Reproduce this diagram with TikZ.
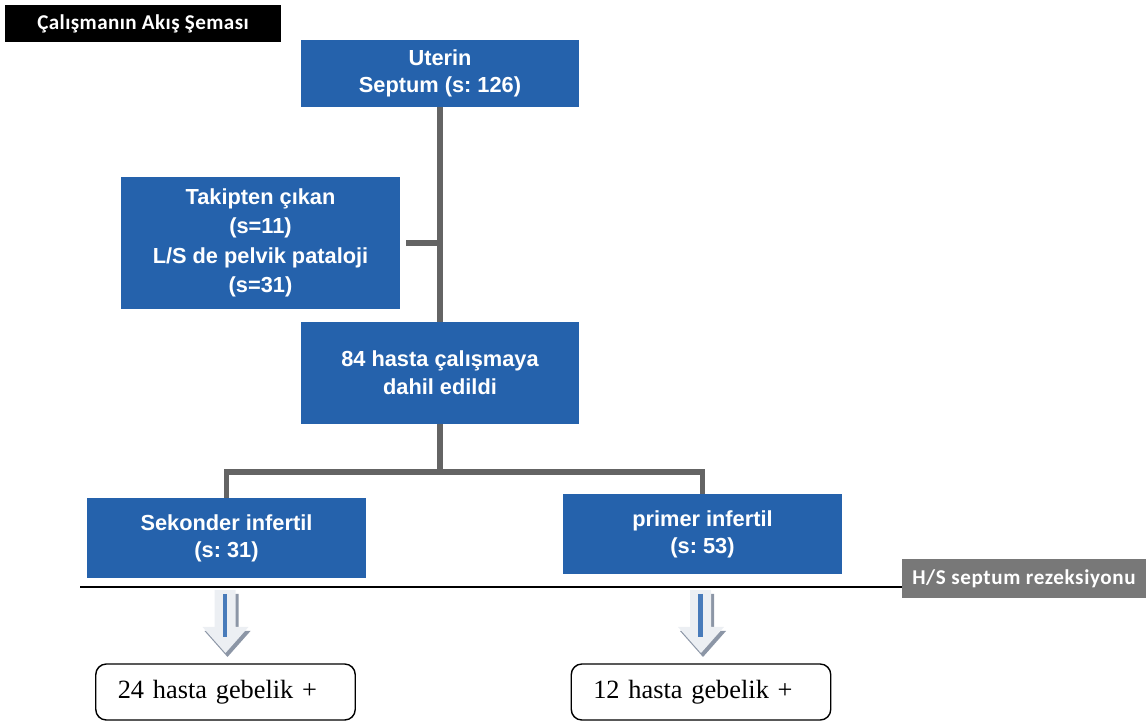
\documentclass[tikz,border=0pt]{standalone}
\usepackage{fontspec}
\setmainfont{Liberation Sans}
\newfontfamily\calibri{Carlito}
\newfontfamily\timesyazi{Liberation Serif}
\frenchspacing
\definecolor{kutumavi}{RGB}{37,98,172}
\definecolor{baglanti}{RGB}{100,100,100}
\definecolor{gribant}{RGB}{120,120,120}
\definecolor{okgolge}{RGB}{140,150,166}
\definecolor{okici}{RGB}{72,123,186}
\definecolor{okdolgu}{RGB}{236,239,243}

\begin{document}
\begin{tikzpicture}[x=0.02cm, y=-0.02cm,
    kutu/.style={fill=kutumavi, text=white, align=center, minimum width=5.58cm,
        font=\bfseries\fontsize{12.4}{15.5}\selectfont},
    sonuc/.style={draw, rounded corners=6pt, line width=0.8pt, fill=white,
        text width=4.31cm, inner xsep=0.44cm, minimum height=1.12cm, align=left,
        font=\timesyazi\fontsize{15}{18}\selectfont},
    conn/.style={draw=baglanti, line width=3.3pt},
    okasagi/.pic={
        \fill[okgolge] (-9,4) -- (13,4) -- (13,41) -- (25,41) -- (2,67) -- (-21,41) -- (-9,41) -- cycle;
        \fill[okdolgu] (-11,0) -- (10,0) -- (10,37) -- (23,37) -- (0,63) -- (-23,37) -- (-11,37) -- cycle;
        \draw[okici, line width=2.8pt] (-0.5,4) -- (-0.5,47);
    }]
    \useasboundingbox (0,0) rectangle (1146,723);

    \node[fill=black, text=white, minimum width=5.52cm, minimum height=0.74cm,
        font=\calibri\bfseries\fontsize{12}{14}\selectfont\addfontfeature{LetterSpace=2}]
        (baslik) at (143,23.5) {Çalışmanın Akış Şeması};

    \node[kutu, minimum height=1.34cm] (uterin) at (440,73.5) {Uterin\\Septum (s: 126)};
    \node[kutu, minimum height=2.64cm, font=\bfseries\fontsize{12.4}{16.8}\selectfont]
        (takip) at (260.5,243) {Takipten çıkan\\(s=11)\\L/S de pelvik pataloji\\(s=31)};
    \node[kutu, minimum height=2.04cm, font=\bfseries\fontsize{12.4}{16}\selectfont]
        (dahil) at (440,373) {84 hasta çalışmaya\\dahil edildi};
    \node[kutu, minimum height=1.6cm] (sekonder) at (226.5,538) {Sekonder infertil\\(s: 31)};
    \node[kutu, minimum height=1.6cm] (primer) at (702.5,534) {primer infertil\\(s: 53)};

    \draw[conn] (uterin.south) -- (dahil.north);
    \draw[conn, shorten <=0.12cm] (takip.east) -- (takip.east -| uterin.south);
    \coordinate (ayrim) at (440,472);
    \draw[conn] (dahil.south) -- (ayrim);
    \draw[conn] (sekonder.north) |- (ayrim) -| (primer.north);

    \node[fill=gribant, text=white, minimum width=4.88cm, minimum height=0.78cm,
        font=\calibri\bfseries\fontsize{12}{14}\selectfont\addfontfeature{LetterSpace=3}]
        (rezeksiyon) at (1024,578.5) {H/S septum rezeksiyonu};
    \coordinate (cizgi) at (80,587);
    \draw[line width=1.1pt] (cizgi) -- (rezeksiyon.west |- cizgi);

    \node[sonuc] (gebelik24) at (225.5,692) {24 hasta gebelik +};
    \node[sonuc] (gebelik12) at (701,692) {12 hasta gebelik +};

    \pic at ([yshift=-1.7pt] gebelik24.north |- cizgi) {okasagi};
    \pic at ([yshift=-1.7pt] gebelik12.north |- cizgi) {okasagi};
\end{tikzpicture}
\end{document}
